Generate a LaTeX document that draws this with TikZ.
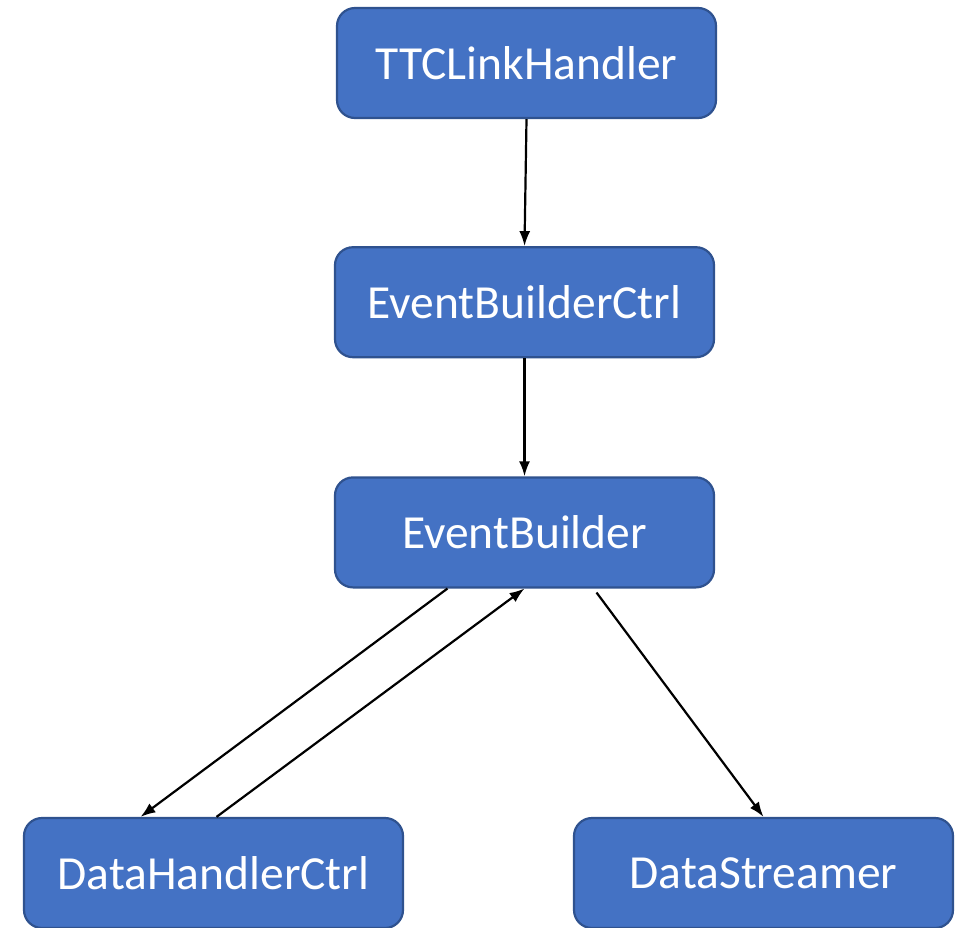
\documentclass[tikz,border=0pt]{standalone}
\usepackage{fontspec}
\setsansfont{Carlito}
\usetikzlibrary{arrows.meta,positioning}

\definecolor{boxfill}{HTML}{4472C4}
\definecolor{boxline}{HTML}{2F528F}

\begin{document}
\begin{tikzpicture}[
  x=1pt, y=1pt,
  font=\sffamily\fontsize{47.5}{57}\selectfont,
  >={Latex[length=15pt,width=11pt]},
  block/.style={draw=boxline, line width=2.2pt, rounded corners=18pt, fill=boxfill, text=white,
    align=center, minimum height=110pt, minimum width=379pt, inner sep=0pt},
  flow/.style={->, line width=2.2pt}
]

\useasboundingbox (0,0) rectangle (957,-927);
\clip (0,0) rectangle (957,-927);

\node[block] (ttc) at (526.5,-63) {TTCLinkHandler};
\node[block, below=127pt of ttc, xshift=-2pt] (ebctrl) {EventBuilderCtrl};
\node[block, below=118pt of ebctrl] (eb) {EventBuilder};

\node[block] (dhc) at (213.5,-873) {DataHandlerCtrl};
\node[block] (ds) at (763.5,-873) {DataStreamer};

\draw[flow] (ttc.south) -- (ebctrl.north);
\draw[flow] (ebctrl.south) -- (eb.north);
\draw[flow] ([xshift=-77pt]eb.south) -- ([xshift=-73pt]dhc.north);
\draw[flow] ([xshift=3pt]dhc.north) -- (eb.south);
\draw[flow] ([xshift=72pt,yshift=-4pt]eb.south) -- (ds.north);

\end{tikzpicture}
\end{document}
